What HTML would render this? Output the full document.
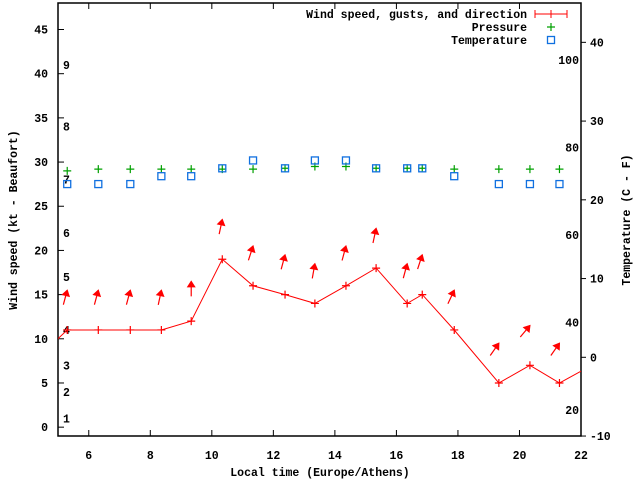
<!DOCTYPE html>
<html><head><meta charset="utf-8"><style>
html,body{margin:0;padding:0;background:#fff;}
svg{display:block;font-family:"Liberation Mono",monospace;font-weight:bold;font-size:11.5px;}
</style></head><body>
<svg id="chart" width="640" height="480" viewBox="0 0 640 480" xmlns="http://www.w3.org/2000/svg">
<defs><clipPath id="plotclip"><rect x="58" y="3" width="523" height="433"/></clipPath></defs>
<rect x="58" y="3" width="523" height="433" fill="#fff" stroke="#000" stroke-width="1.5"/>
<g id="axes"></g>
<g id="series" clip-path="url(#plotclip)"></g>
<g id="legend">
<text x="527" y="18" text-anchor="end">Wind speed, gusts, and direction</text>
<line x1="535" y1="14" x2="567" y2="14" stroke="red"/>
<line x1="535" y1="10" x2="535" y2="18" stroke="red"/>
<line x1="567" y1="10" x2="567" y2="18" stroke="red"/>
<line x1="551" y1="10" x2="551" y2="18" stroke="red"/>
<text x="527" y="31" text-anchor="end">Pressure</text>
<path d="M547 27h8M551 23v8" stroke="#00a000" stroke-width="1.2"/>
<text x="527" y="44" text-anchor="end">Temperature</text>
<rect x="547.5" y="36.5" width="7" height="7" fill="none" stroke="#1070e0" stroke-width="1.3"/>
</g>
<text transform="translate(17,220) rotate(-90)" text-anchor="middle">Wind speed (kt - Beaufort)</text>
<text transform="translate(630,220) rotate(-90)" text-anchor="middle">Temperature (C - F)</text>
<text x="320" y="476" text-anchor="middle">Local time (Europe/Athens)</text>
</svg>
<script>
const xTicks = [6, 8, 10, 12, 14, 16, 18, 20, 22];
const yTicks = [0, 5, 10, 15, 20, 25, 30, 35, 40, 45];
const cTicks = [-10, 0, 10, 20, 30, 40];
const fTicks = [20, 40, 60, 80, 100];
const beaufortLabels = ["1","2","3","4","5","6","7","8","9"];
const beaufortKnots = [1, 4, 7, 11, 17, 22, 28, 34, 41];
const windTimes = [4.3, 5.3, 6.31, 7.35, 8.36, 9.33, 10.34, 11.34, 12.38, 13.35, 14.36, 15.34, 16.35, 16.84, 17.88, 19.33, 20.34, 21.3, 22.3];
const windSpeed = [7.7, 11, 11, 11, 11, 12, 19, 16, 15, 14, 16, 18, 14, 15, 11, 5, 7, 5, 6.9];
const obsTimes = [5.3, 6.31, 7.35, 8.36, 9.33, 10.34, 11.34, 12.38, 13.35, 14.36, 15.34, 16.35, 16.84, 17.88, 19.33, 20.34, 21.3];
const gusts = [15.5, 15.5, 15.5, 15.5, 16.5, 23.5, 20.5, 19.5, 18.5, 20.5, 22.5, 18.5, 19.5, 15.5, 9.5, 11.5, 9.5];
const direction = [15, 15, 15, 12, 0, 12, 18, 15, 10, 15, 12, 15, 18, 25, 35, 40, 35];
const pressure = [29.0, 29.2, 29.2, 29.2, 29.2, 29.2, 29.2, 29.3, 29.5, 29.5, 29.3, 29.3, 29.3, 29.2, 29.2, 29.2, 29.2];
const temperature = [22, 22, 22, 23, 23, 24, 25, 24, 25, 25, 24, 24, 24, 23, 22, 22, 22];

const NS = "http://www.w3.org/2000/svg";
const L = 58, R = 581, T = 3, B = 436;
const X = h => L + (h - 5) / (22 - 5) * (R - L);
const Y = v => B - (v - (-1)) / (48 - (-1)) * (B - T);
const YC = c => 357.3 - c * 7.874;
const FtoC = f => (f - 32) * 5 / 9;
function mk(tag, attrs, parent, txt) {
  const e = document.createElementNS(NS, tag);
  for (const k in attrs) e.setAttribute(k, attrs[k]);
  if (txt !== undefined) e.textContent = txt;
  parent.appendChild(e);
  return e;
}
const axes = document.getElementById("axes");
const series = document.getElementById("series");

xTicks.forEach(t => {
  const x = X(t);
  const tk = mk("line", {x1: x, y1: T, x2: x, y2: T + 6, stroke: "#000"}, axes);
  
  
  const tb = mk("line", {x1: x, y1: B, x2: x, y2: B - 6, stroke: "#000"}, axes);
  
  
  const lb = mk("text", {x: x, y: 459, "text-anchor": "middle"}, axes, String(t));
  
  
});
yTicks.forEach(t => {
  const y = Y(t);
  const tk = mk("line", {x1: L, y1: y, x2: L + 6, y2: y, stroke: "#000"}, axes);
  
  
  const lb = mk("text", {x: 48, y: y + 4, "text-anchor": "end"}, axes, String(t));
  
  
});
cTicks.forEach(t => {
  const y = YC(t);
  const tk = mk("line", {x1: R, y1: y, x2: R + 5, y2: y, stroke: "#000"}, axes);
  
  
  const lb = mk("text", {x: 590, y: y + 4, "text-anchor": "start"}, axes, String(t));
  
  
});
fTicks.forEach(t => {
  const y = YC(FtoC(t));
  const lb = mk("text", {x: 579, y: y + 4, "text-anchor": "end"}, axes, String(t));
  
  
});
beaufortLabels.forEach((b, i) => {
  const lb = mk("text", {x: 63, y: Y(beaufortKnots[i]) + 4}, axes, b);
  
  
});

// wind line
const pts = windTimes.map((t, i) => X(t).toFixed(1) + "," + Y(windSpeed[i]).toFixed(1)).join(" ");
const wl = mk("polyline", {points: pts, fill: "none", stroke: "red", "stroke-width": 1}, series);


windTimes.forEach((t, i) => {
  const x = X(t), y = Y(windSpeed[i]);
  const p = mk("path", {d: `M${x-4} ${y}h8M${x} ${y-4}v8`, stroke: "red", "stroke-width": 1.2}, series);
  
  
});
// gust arrows
obsTimes.forEach((t, i) => {
  const hx = X(t), hy = Y(gusts[i]);
  const a = direction[i] * Math.PI / 180;
  const len = 15;
  const tx = hx - Math.sin(a) * len, ty = hy + Math.cos(a) * len;
  const g = mk("g", {}, series);
  
  
  mk("line", {x1: tx, y1: ty, x2: hx, y2: hy, stroke: "red", "stroke-width": 1.2}, g);
  mk("polygon", {points: "0,-1 -4.5,6 4.5,6", fill: "red", transform: `translate(${hx},${hy}) rotate(${direction[i]})`}, g);
});
// pressure
obsTimes.forEach((t, i) => {
  const x = X(t), y = Y(pressure[i]);
  const p = mk("path", {d: `M${x-4} ${y}h8M${x} ${y-4}v8`, stroke: "#00a000", "stroke-width": 1.2}, series);
  
  
});
// temperature
obsTimes.forEach((t, i) => {
  const x = X(t), y = YC(temperature[i]);
  const r = mk("rect", {x: x - 3.5, y: y - 3.5, width: 7, height: 7, fill: "none", stroke: "#1070e0", "stroke-width": 1.3}, series);
  
  
});
</script>
</body></html>
